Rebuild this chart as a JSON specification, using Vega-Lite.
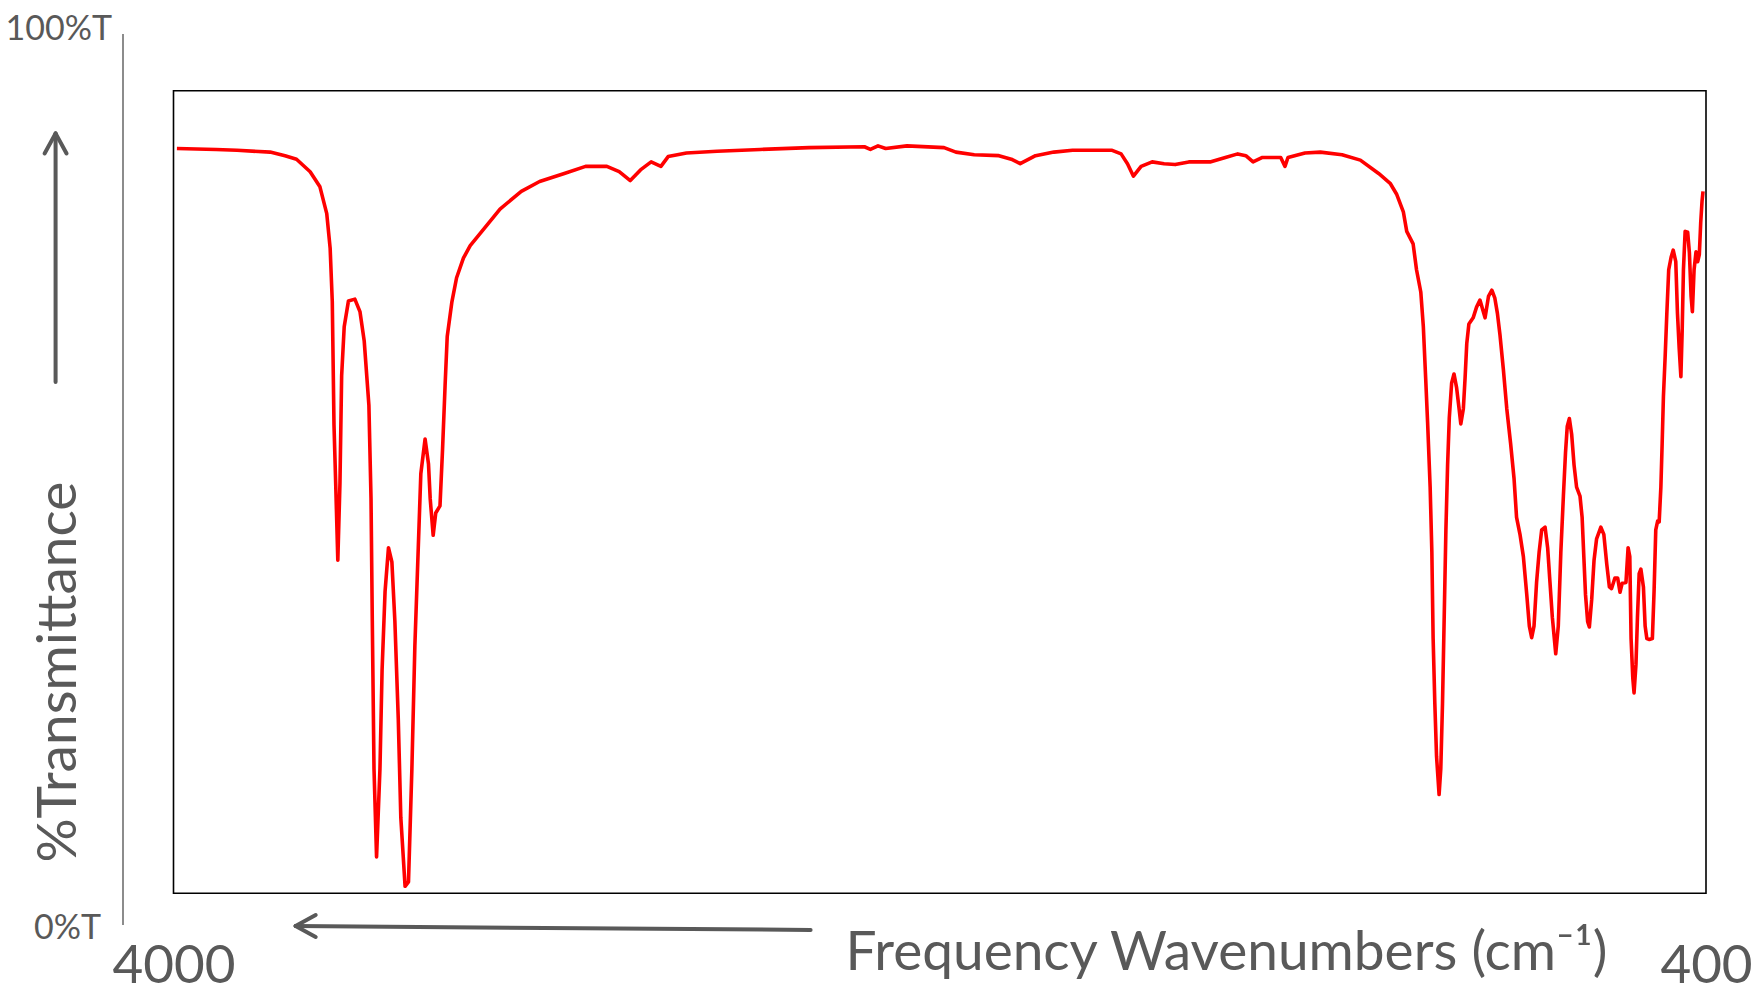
{
  "$schema": "https://vega.github.io/schema/vega-lite/v6.json",
  "width": 1532.5,
  "height": 891,
  "autosize": {"type": "none"},
  "padding": {"left": 173.5, "top": 33.6, "right": 49, "bottom": 61.4},
  "background": "white",
  "config": {"view": {"stroke": null}, "font": "Lato"},
  "encoding": {
    "x": {
      "field": "wn", "type": "quantitative",
      "scale": {"domain": [400, 4000], "reverse": true, "nice": false, "zero": false},
      "axis": {
        "values": [4000, 400], "format": "d",
        "domain": false, "ticks": false, "tickSize": 0, "grid": false,
        "labelFlush": false, "labelOverlap": false, "labelBound": false,
        "labelFont": "Lato", "labelFontSize": 53, "labelColor": "#595959",
        "labelBaseline": "alphabetic", "labelPadding": 58,
        "title": "Frequency Wavenumbers (cm⁻¹)",
        "titleFont": "Lato", "titleFontSize": 55, "titleFontWeight": "normal", "titleColor": "#595959",
        "titleAlign": "left", "titleAnchor": "start", "titleBaseline": "alphabetic",
        "titleX": 671.5, "titleY": 44.4
      }
    },
    "y": {
      "field": "t", "type": "quantitative",
      "scale": {"domain": [0, 100], "nice": false, "zero": false},
      "axis": {
        "values": [0, 100],
        "labelExpr": "datum.value == 100 ? '100%T' : '0%T'",
        "offset": 51,
        "domainColor": "#8c8c8c", "domainWidth": 2,
        "ticks": false, "tickSize": 0, "grid": false,
        "labelFlush": false, "labelOverlap": false, "labelBound": false,
        "labelFont": "Lato", "labelFontSize": 34, "labelColor": "#595959",
        "labelBaseline": "alphabetic", "labelAlign": "right",
        "labelOffset": {"condition": {"test": "datum.value == 0", "value": 14}, "value": 6},
        "labelPadding": {"condition": {"test": "datum.value == 0", "value": 22}, "value": 11},
        "title": "%Transmittance",
        "titleFont": "Lato", "titleFontSize": 55, "titleFontWeight": "normal", "titleColor": "#595959",
        "titleAngle": -90, "titleAlign": "center", "titleBaseline": "alphabetic",
        "titleX": -47, "titleY": 638
      }
    }
  },
  "layer": [
    {
      "data": {"values": [{"wn": 4000, "t": 3.52, "wn2": 400, "t2": 93.59}]},
      "mark": {"type": "rect", "fill": null, "stroke": "#000000", "strokeWidth": 1.6},
      "encoding": {"x2": {"field": "wn2"}, "y2": {"field": "t2"}}
    },
    {
      "data": {"values": [
        {"wn": 3992, "t": 87.1}, {"wn": 3900, "t": 87.0}, {"wn": 3851, "t": 86.9}, {"wn": 3773, "t": 86.7},
        {"wn": 3738, "t": 86.3}, {"wn": 3711, "t": 85.9}, {"wn": 3679, "t": 84.5}, {"wn": 3656, "t": 82.8},
        {"wn": 3640, "t": 79.8}, {"wn": 3632, "t": 75.9}, {"wn": 3627, "t": 69.9}, {"wn": 3623, "t": 56.1},
        {"wn": 3619, "t": 49.5}, {"wn": 3614, "t": 40.9}, {"wn": 3609, "t": 49.5}, {"wn": 3605, "t": 61.6},
        {"wn": 3599, "t": 67.1}, {"wn": 3589, "t": 70.0}, {"wn": 3574, "t": 70.2}, {"wn": 3562, "t": 68.8},
        {"wn": 3552, "t": 65.5}, {"wn": 3541, "t": 58.3}, {"wn": 3536, "t": 47.8}, {"wn": 3533, "t": 34.1},
        {"wn": 3529, "t": 17.5}, {"wn": 3523, "t": 7.6}, {"wn": 3515, "t": 17.5}, {"wn": 3510, "t": 28.6},
        {"wn": 3503, "t": 37.4}, {"wn": 3495, "t": 42.3}, {"wn": 3487, "t": 40.7}, {"wn": 3480, "t": 34.1},
        {"wn": 3472, "t": 23.1}, {"wn": 3466, "t": 12.0}, {"wn": 3456, "t": 4.3}, {"wn": 3448, "t": 4.8},
        {"wn": 3440, "t": 17.5}, {"wn": 3433, "t": 31.3}, {"wn": 3425, "t": 42.3}, {"wn": 3419, "t": 50.6},
        {"wn": 3409, "t": 54.5}, {"wn": 3401, "t": 51.7}, {"wn": 3397, "t": 47.8}, {"wn": 3390, "t": 43.7},
        {"wn": 3384, "t": 46.2}, {"wn": 3374, "t": 47.0}, {"wn": 3368, "t": 53.3}, {"wn": 3362, "t": 60.5},
        {"wn": 3357, "t": 66.0}, {"wn": 3346, "t": 69.9}, {"wn": 3335, "t": 72.6}, {"wn": 3319, "t": 74.8},
        {"wn": 3303, "t": 76.2}, {"wn": 3233, "t": 80.3}, {"wn": 3183, "t": 82.3}, {"wn": 3140, "t": 83.4},
        {"wn": 3082, "t": 84.3}, {"wn": 3032, "t": 85.1}, {"wn": 2982, "t": 85.1}, {"wn": 2953, "t": 84.5},
        {"wn": 2927, "t": 83.5}, {"wn": 2903, "t": 84.7}, {"wn": 2878, "t": 85.6}, {"wn": 2855, "t": 85.1},
        {"wn": 2838, "t": 86.2}, {"wn": 2795, "t": 86.6}, {"wn": 2723, "t": 86.8}, {"wn": 2622, "t": 87.0},
        {"wn": 2507, "t": 87.2}, {"wn": 2377, "t": 87.3}, {"wn": 2363, "t": 87.0}, {"wn": 2345, "t": 87.4},
        {"wn": 2327, "t": 87.1}, {"wn": 2277, "t": 87.4}, {"wn": 2190, "t": 87.2}, {"wn": 2162, "t": 86.7},
        {"wn": 2119, "t": 86.4}, {"wn": 2061, "t": 86.3}, {"wn": 2032, "t": 85.9}, {"wn": 2011, "t": 85.4},
        {"wn": 1975, "t": 86.3}, {"wn": 1932, "t": 86.7}, {"wn": 1888, "t": 86.9}, {"wn": 1795, "t": 86.9},
        {"wn": 1774, "t": 86.5}, {"wn": 1759, "t": 85.4}, {"wn": 1745, "t": 84.0}, {"wn": 1727, "t": 85.1},
        {"wn": 1701, "t": 85.6}, {"wn": 1673, "t": 85.4}, {"wn": 1647, "t": 85.3}, {"wn": 1615, "t": 85.6},
        {"wn": 1565, "t": 85.6}, {"wn": 1529, "t": 86.1}, {"wn": 1500, "t": 86.5}, {"wn": 1481, "t": 86.3},
        {"wn": 1464, "t": 85.6}, {"wn": 1442, "t": 86.1}, {"wn": 1399, "t": 86.1}, {"wn": 1389, "t": 85.1},
        {"wn": 1382, "t": 86.1}, {"wn": 1342, "t": 86.6}, {"wn": 1306, "t": 86.7}, {"wn": 1255, "t": 86.4},
        {"wn": 1212, "t": 85.8}, {"wn": 1169, "t": 84.3}, {"wn": 1142, "t": 83.2}, {"wn": 1127, "t": 82.0},
        {"wn": 1111, "t": 80.0}, {"wn": 1103, "t": 77.8}, {"wn": 1088, "t": 76.4}, {"wn": 1080, "t": 73.5},
        {"wn": 1070, "t": 71.0}, {"wn": 1064, "t": 67.1}, {"wn": 1058.5, "t": 61.3}, {"wn": 1054, "t": 56.4},
        {"wn": 1048, "t": 49.1}, {"wn": 1044, "t": 41.8}, {"wn": 1041, "t": 32.1}, {"wn": 1037, "t": 24.8},
        {"wn": 1033, "t": 18.9}, {"wn": 1027, "t": 14.6}, {"wn": 1023, "t": 17.5}, {"wn": 1019, "t": 24.8},
        {"wn": 1015, "t": 34.5}, {"wn": 1011, "t": 44.3}, {"wn": 1007, "t": 51.6}, {"wn": 1003, "t": 56.9},
        {"wn": 997.5, "t": 60.8}, {"wn": 992, "t": 61.8}, {"wn": 986, "t": 60.3}, {"wn": 980, "t": 57.9},
        {"wn": 976, "t": 56.2}, {"wn": 970, "t": 57.9}, {"wn": 966, "t": 61.3}, {"wn": 962, "t": 65.2},
        {"wn": 957, "t": 67.4}, {"wn": 947, "t": 68.1}, {"wn": 939, "t": 69.3}, {"wn": 931, "t": 70.1},
        {"wn": 919, "t": 68.1}, {"wn": 911, "t": 70.5}, {"wn": 903, "t": 71.2}, {"wn": 896, "t": 70.3},
        {"wn": 890, "t": 68.6}, {"wn": 884, "t": 66.2}, {"wn": 876, "t": 62.3}, {"wn": 868, "t": 57.9},
        {"wn": 859, "t": 54.0}, {"wn": 851, "t": 50.1}, {"wn": 845, "t": 45.7}, {"wn": 837, "t": 43.8},
        {"wn": 829, "t": 41.3}, {"wn": 821, "t": 37.0}, {"wn": 815, "t": 33.5}, {"wn": 809.5, "t": 32.2},
        {"wn": 804, "t": 33.5}, {"wn": 798, "t": 38.4}, {"wn": 792, "t": 41.8}, {"wn": 786, "t": 44.3},
        {"wn": 778, "t": 44.6}, {"wn": 772, "t": 42.3}, {"wn": 766.5, "t": 38.4}, {"wn": 761, "t": 34.5},
        {"wn": 753, "t": 30.4}, {"wn": 747, "t": 33.5}, {"wn": 741, "t": 41.8}, {"wn": 735, "t": 48.1},
        {"wn": 730, "t": 53.0}, {"wn": 726, "t": 55.9}, {"wn": 721, "t": 56.8}, {"wn": 715.5, "t": 55.0},
        {"wn": 710, "t": 51.6}, {"wn": 704, "t": 49.1}, {"wn": 696, "t": 48.1}, {"wn": 691, "t": 45.7},
        {"wn": 687, "t": 41.3}, {"wn": 683, "t": 37.0}, {"wn": 678, "t": 34.0}, {"wn": 674, "t": 33.4},
        {"wn": 668.5, "t": 36.5}, {"wn": 663, "t": 40.9}, {"wn": 657, "t": 43.3}, {"wn": 647, "t": 44.6},
        {"wn": 640, "t": 43.8}, {"wn": 633, "t": 40.4}, {"wn": 627, "t": 37.9}, {"wn": 622, "t": 37.7},
        {"wn": 614, "t": 38.9}, {"wn": 607.5, "t": 38.9}, {"wn": 602, "t": 37.3}, {"wn": 597, "t": 38.3},
        {"wn": 588, "t": 38.4}, {"wn": 583, "t": 42.3}, {"wn": 579, "t": 41.3}, {"wn": 576, "t": 32.1},
        {"wn": 572, "t": 27.7}, {"wn": 569, "t": 26.0}, {"wn": 564.5, "t": 29.2}, {"wn": 561, "t": 34.5},
        {"wn": 557, "t": 39.4}, {"wn": 553, "t": 39.9}, {"wn": 547, "t": 37.9}, {"wn": 543, "t": 33.5},
        {"wn": 539, "t": 32.1}, {"wn": 533, "t": 32.0}, {"wn": 526, "t": 32.1}, {"wn": 522, "t": 37.4},
        {"wn": 518, "t": 44.3}, {"wn": 513.5, "t": 45.3}, {"wn": 510, "t": 45.2}, {"wn": 506, "t": 49.1},
        {"wn": 503, "t": 54.0}, {"wn": 500, "t": 59.3}, {"wn": 496, "t": 63.7}, {"wn": 492, "t": 68.6},
        {"wn": 487.6, "t": 73.5}, {"wn": 482, "t": 74.9}, {"wn": 477, "t": 75.7}, {"wn": 471, "t": 74.4},
        {"wn": 467, "t": 68.6}, {"wn": 463, "t": 64.7}, {"wn": 459, "t": 61.5}, {"wn": 456, "t": 66.6},
        {"wn": 453, "t": 73.5}, {"wn": 449, "t": 77.8}, {"wn": 443, "t": 77.7}, {"wn": 439, "t": 75.4},
        {"wn": 435, "t": 70.5}, {"wn": 432, "t": 68.8}, {"wn": 428, "t": 73.5}, {"wn": 423.5, "t": 75.5},
        {"wn": 419.5, "t": 74.4}, {"wn": 415.7, "t": 75.2}, {"wn": 412.4, "t": 78.8}, {"wn": 409.3, "t": 81.2},
        {"wn": 407, "t": 82.3}
      ]},
      "mark": {"type": "line", "color": "#ff0000", "strokeWidth": 3.6, "strokeJoin": "round"},
      "encoding": {}
    },
    {
      "data": {"values": [
        {"wn": 4277, "t": 88.8, "wn2": 4277, "t2": 60.9},
        {"wn": 4277, "t": 88.8, "wn2": 4302.8, "t2": 86.55},
        {"wn": 4277, "t": 88.8, "wn2": 4251.2, "t2": 86.55},
        {"wn": 3713.2, "t": -0.16, "wn2": 2503.4, "t2": -0.6},
        {"wn": 3713.2, "t": -0.16, "wn2": 3666, "t2": 1.07},
        {"wn": 3713.2, "t": -0.16, "wn2": 3666, "t2": -1.39}
      ]},
      "mark": {"type": "rule", "color": "#595959", "strokeWidth": 4, "strokeCap": "round"},
      "encoding": {"x2": {"field": "wn2"}, "y2": {"field": "t2"}}
    }
  ]
}
